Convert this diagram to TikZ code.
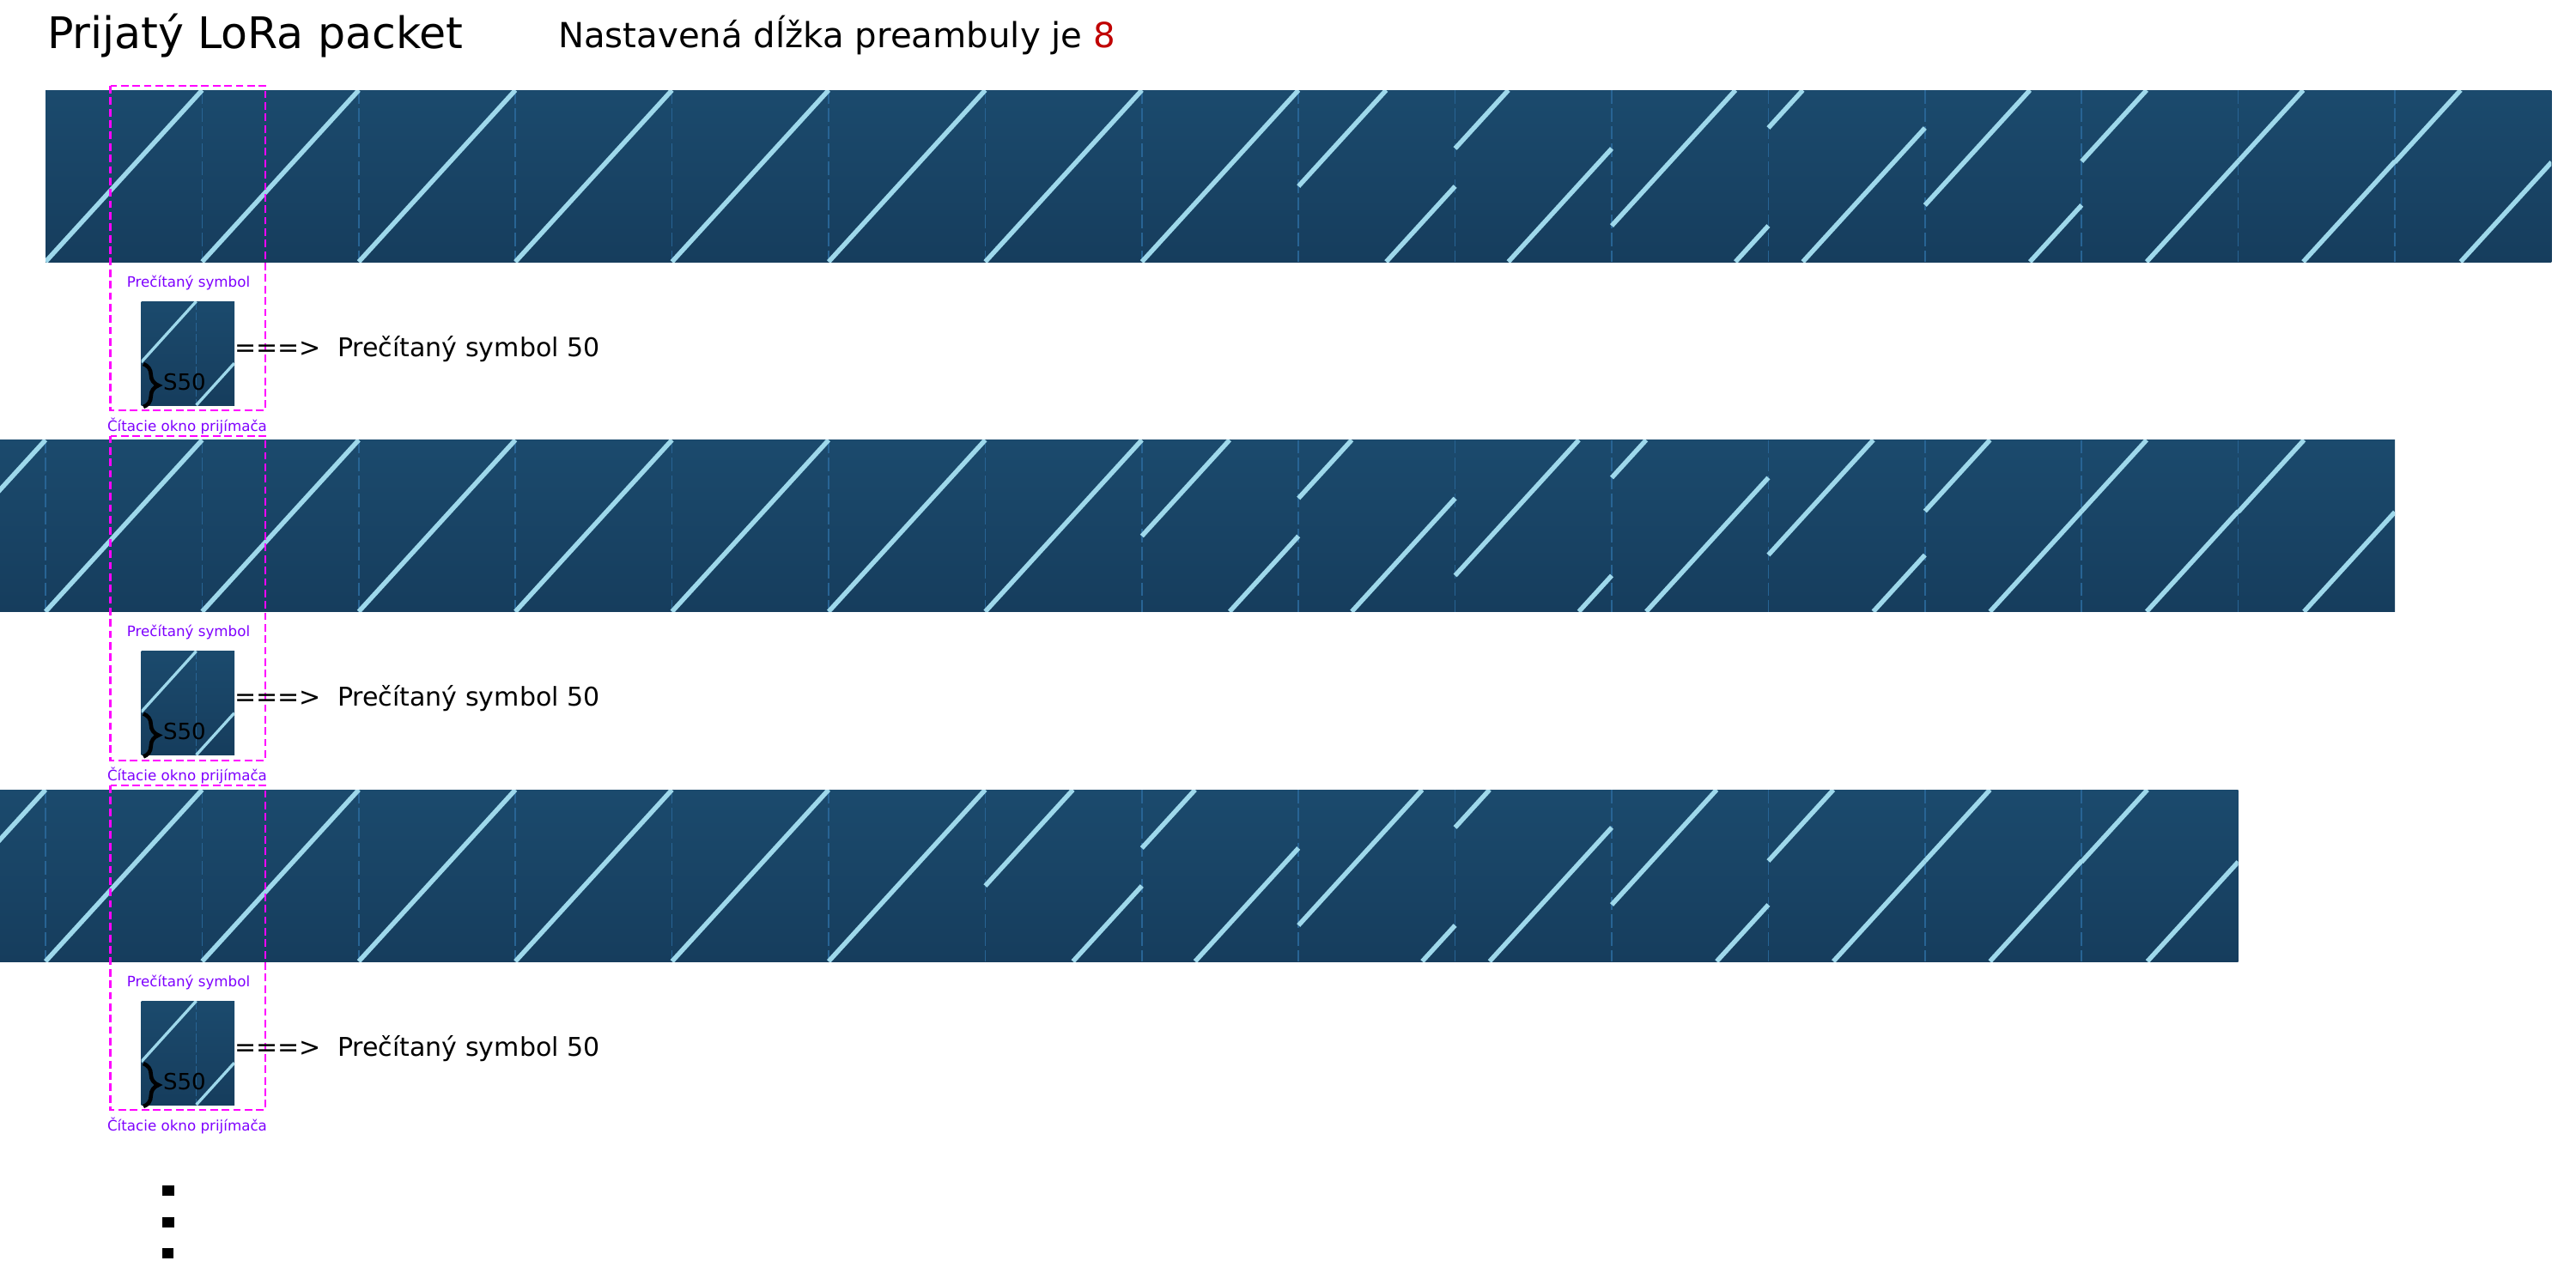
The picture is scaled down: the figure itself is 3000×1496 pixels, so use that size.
\documentclass[tikz,border=0pt]{standalone}
\usepackage{fontspec}
\setmainfont{DejaVu Sans}
\usetikzlibrary{decorations.pathreplacing}
\definecolor{bandtop}{RGB}{27,74,109}
\definecolor{bandbot}{RGB}{22,61,93}
\definecolor{chirpc}{RGB}{158,216,235}
\definecolor{sepc}{RGB}{40,100,148}
\definecolor{winc}{RGB}{255,0,255}
\definecolor{lblc}{RGB}{127,0,255}
\definecolor{redc}{RGB}{192,0,0}
\tikzset{
  chirp/.style={draw=chirpc, line width=1.55pt},
  smallchirp/.style={draw=chirpc, line width=0.95pt},
  sepline/.style={draw=sepc, line width=0.45pt, dash pattern=on 4.5pt off 1.4pt},
  smallsep/.style={draw=sepc, line width=0.35pt, dash pattern=on 2.7pt off 0.9pt},
  window/.style={draw=winc, line width=0.57pt, dash pattern=on 2.5pt off 1.3pt},
  bandfill/.style={top color=bandtop, bottom color=bandbot},
  txt/.style={inner sep=0pt, outer sep=0pt, anchor=base west},
  lbl/.style={inner sep=0pt, outer sep=0pt, anchor=base, text=lblc, font=\fontsize{4.75pt}{5.5pt}\selectfont},
  big/.style={font=\fontsize{8.55pt}{10pt}\selectfont},
  bracestyle/.style={decorate, decoration={brace, amplitude=5pt}, line width=1.3pt},
}
\begin{document}
\begin{tikzpicture}[x=0.01cm,y=-0.01cm]
\useasboundingbox (0,0) rectangle (3000,1496);
\fill[white] (0,0) rectangle (3000,1496);
\def\W{182.4}\def\H{200}\def\XO{53}
% received packet bands
\foreach \k in {0,1,2} {
  \pgfmathsetmacro\bT{105+407.5*\k}
  \pgfmathsetmacro\bB{\bT+\H}
  \pgfmathsetmacro\bl{max(0,\XO-\k*\W)}
  \pgfmathsetmacro\br{\XO+(16-\k)*\W}
  \begin{scope}
    \clip (\bl,\bT) rectangle (\br,\bB);
    \shade[bandfill] (\bl,\bT) rectangle (\br,\bB);
    \foreach \i in {1,...,15} {
      \pgfmathsetmacro\xd{\XO+(\i-\k)*\W}
      \draw[sepline] (\xd,\bT) -- (\xd,\bB);
    }
    \foreach \f [count=\i from 0] in {0,0,0,0,0,0,0,0,0.44,0.66,0.21,0.78,0.33,0.585,0.585,0.58} {
      \pgfmathsetmacro\xs{\XO+(\i-\k)*\W}
      \pgfmathsetmacro\xm{\xs+(1-\f)*\W}
      \pgfmathsetmacro\xe{\xs+\W}
      \pgfmathsetmacro\ys{\bB-\f*\H}
      \draw[chirp] (\xs,\ys) -- (\xm,\bT);
      \ifdim \f pt>0pt \draw[chirp] (\xm,\bB) -- (\xe,\ys); \fi
    }
  \end{scope}
}
% reading windows and decoded symbols
\foreach \k in {0,1,2} {
  \pgfmathsetmacro\dy{407.5*\k}
  \draw[window] (128.5,100+\dy) rectangle (309,478+\dy);
  \node[lbl] (rs\k) at (219.5,334+\dy) {Prečítaný symbol};
  \node[lbl] (win\k) at (218,502+\dy) {Čítacie okno prijímača};
  \shade[bandfill] (164.5,351+\dy) rectangle (273,472+\dy);
  \begin{scope}
    \clip (164.5,351+\dy) rectangle (273,472+\dy);
    \draw[smallsep] (228.6,351+\dy) -- (228.6,472+\dy);
    \draw[smallchirp] (164.5,421.9+\dy) -- (228.6,351+\dy);
    \draw[smallchirp] (228.6,472+\dy) -- (272.8,423.2+\dy);
  \end{scope}
  \coordinate (bt\k) at (167,424+\dy);
  \coordinate (bb\k) at (167,474+\dy);
  \draw[bracestyle] (bt\k) -- (bb\k);
  \node[txt, font=\fontsize{7.4pt}{8pt}\selectfont] (s\k) at (190,454+\dy) {S50};
  \node[txt,big] (arr\k) at (273,415+\dy) {===>};
  \node[txt,big] (res\k) at (393,415+\dy) {Prečítaný symbol 50};
}
% titles
\node[txt, font=\fontsize{14.4pt}{17pt}\selectfont] (title) at (55,56) {Prijatý LoRa packet};
\node[txt, font=\fontsize{11.45pt}{14pt}\selectfont] (sub) at (650,55) {Nastavená dĺžka preambuly je \textcolor{redc}{8}};
% continuation dots
\fill (189,1381) rectangle (203,1393);
\fill (189,1418) rectangle (203,1430);
\fill (189,1454) rectangle (202,1466);
\end{tikzpicture}
\end{document}
